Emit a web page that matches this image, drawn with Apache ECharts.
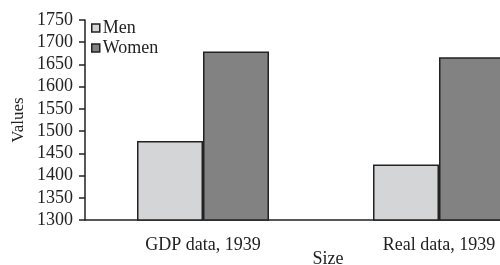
<!DOCTYPE html>
<html><head><meta charset="utf-8">
<script src="https://cdn.jsdelivr.net/npm/echarts@6/dist/echarts.min.js"></script>
<style>html,body{margin:0;padding:0;overflow:hidden;background:#fff;width:500px;height:265px}#c{width:620px;height:265px}</style>
</head><body><div id="c"></div>
<script>
const categories = ["GDP data, 1939", "Real data, 1939"];
const men = [1478, 1425];
const women = [1679, 1666];
const seriesNames = ["Men", "Women"];
const font = "Liberation Serif";
const chart = echarts.init(document.getElementById('c'), null, {renderer: 'canvas'});
chart.setOption({
  animation: false,
  backgroundColor: '#fff',
  grid: {left: 85, top: 20, width: 472, height: 200, containLabel: false, outerBoundsMode: 'none'},
  legend: {
    data: seriesNames, orient: 'vertical', left: 91, top: 19, padding: 0,
    icon: 'rect', itemWidth: 8, itemHeight: 8, itemGap: 2,
    textStyle: {fontFamily: font, fontSize: 18, lineHeight: 18, color: '#222', padding: [0,0,0,-2]},
    itemStyle: {borderColor: '#222', borderWidth: 1.5}
  },
  xAxis: {
    type: 'category', data: categories,
    name: 'Size', nameLocation: 'middle', nameGap: 30, nameMoveOverlap: false,
    nameTextStyle: {fontFamily: font, fontSize: 18, color: '#222', padding: [0,0,0,14]},
    axisLine: {lineStyle: {color: '#222', width: 1.5}},
    axisTick: {alignWithLabel: true, length: 7, lineStyle: {color: '#222', width: 1.5}},
    axisLabel: {fontFamily: font, fontSize: 18, color: '#222', margin: 16}
  },
  yAxis: {
    type: 'value', min: 1300, max: 1750, interval: 50,
    name: 'Values', nameLocation: 'middle', nameGap: 58, nameMoveOverlap: false,
    nameTextStyle: {fontFamily: font, fontSize: 17, color: '#222'},
    axisLine: {show: true, lineStyle: {color: '#222', width: 1.5}},
    axisTick: {show: true, length: 6, lineStyle: {color: '#222', width: 1.5}},
    axisLabel: {fontFamily: font, fontSize: 18, color: '#222', margin: 12, formatter: v => String(v)},
    splitLine: {show: false}
  },
  series: [
    {name: seriesNames[0], type: 'bar', data: men, barWidth: 66, barGap: '0%',
     itemStyle: {color: '#d4d5d6', borderColor: '#222', borderWidth: 1.5}},
    {name: seriesNames[1], type: 'bar', data: women, barWidth: 66,
     itemStyle: {color: '#828282', borderColor: '#222', borderWidth: 1.5}}
  ]
});
</script></body></html>
